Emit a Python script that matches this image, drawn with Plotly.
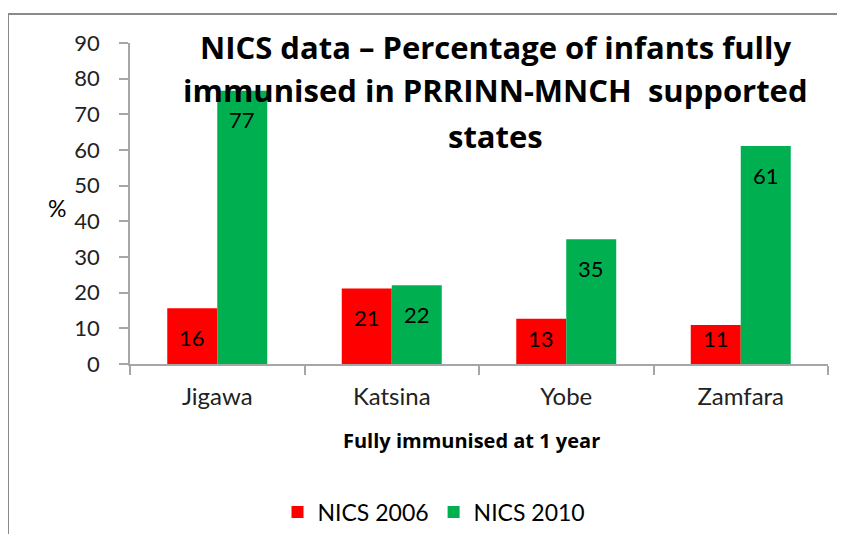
import plotly.graph_objects as go

categories = ["Jigawa", "Katsina", "Yobe", "Zamfara"]
nics_2006 = [15.6, 21.2, 12.7, 10.9]
nics_2010 = [76.6, 22.1, 35.0, 61.1]
series_names = ["NICS 2006", "NICS 2010"]
series_colors = ["#FF0000", "#00B050"]
y_ticks = list(range(0, 100, 10))
title_lines = ["NICS data \u2013 Percentage of infants fully",
               "immunised in PRRINN-MNCH  supported",
               "states"]
x_title = "Fully immunised at 1 year"
y_title = "%"

OFF = 8  # page body margin: window px = figure px + 8
W, H = 845 - 2 * OFF, 542 - 2 * OFF  # keep the page free of scrollbars
# target positions in window pixels
PL, PR, PT, PB = 130, 828, 43, 364
L, T = PL - OFF, PT - OFF
R = W - (PR - OFF)
B = H - (PB - OFF)
FONT = "Lato"
BOLD = "Open Sans"

fig = go.Figure()
for name, vals, col in zip(series_names, [nics_2006, nics_2010], series_colors):
    fig.add_trace(go.Bar(x=categories, y=vals, name=name, marker=dict(color=col, line=dict(width=0))))

annotations = []
px_per_unit = (PB - PT) / 90.0
for k, vals in enumerate([nics_2006, nics_2010]):
    xshift = -25 if k == 0 else 25
    for c, v in zip(categories, vals):
        lab_y = max(v - 29 / px_per_unit, 26 / px_per_unit)
        annotations.append(dict(x=c, y=lab_y, xref="x", yref="y", text=f"{round(v)}",
                                showarrow=False, xshift=xshift, yanchor="middle",
                                font=dict(family=FONT, size=22, color="#000000")))

pw = PR - PL
ph = PB - PT
def px_x(p):
    return (p - PL) / pw
def px_y(p):
    return (PB - p) / ph

for line, yc in zip(title_lines, [47, 90, 136]):
    annotations.append(dict(x=px_x(496), y=px_y(yc), xref="paper", yref="paper", text=f"<b>{line}</b>",
                            showarrow=False, xanchor="center", yanchor="middle",
                            font=dict(family=BOLD, size=31, color="#000000")))

annotations.append(dict(x=px_x(471), y=px_y(440), xref="paper", yref="paper", text=f"<b>{x_title}</b>",
                        showarrow=False, xanchor="center", yanchor="middle",
                        font=dict(family=BOLD, size=20, color="#000000")))
annotations.append(dict(x=px_x(57), y=px_y(208), xref="paper", yref="paper", text=y_title,
                        showarrow=False, xanchor="center", yanchor="middle",
                        font=dict(family=FONT, size=23, color="#000000")))

border = dict(color="#8A8A8A", width=2)
fig.update_layout(
    width=W, height=H,
    margin=dict(l=L, r=R, t=T, b=B, autoexpand=False),
    paper_bgcolor="white", plot_bgcolor="white",
    barmode="group", bargap=0.427, bargroupgap=0,
    showlegend=True,
    legend=dict(orientation="h", x=px_x(434), xanchor="center", y=px_y(512), yanchor="middle",
                font=dict(family=FONT, size=23, color="#000000"), itemwidth=30,
                bgcolor="rgba(0,0,0,0)"),
    annotations=annotations,
    font=dict(family=FONT, color="#000000"),
    shapes=[
        dict(type="line", xref="paper", yref="paper", x0=px_x(8), x1=px_x(845), y0=px_y(14), y1=px_y(14),
             line=border, layer="below"),
        dict(type="line", xref="paper", yref="paper", x0=px_x(8), x1=px_x(8), y0=px_y(14), y1=px_y(545),
             line=border, layer="below"),
    ],
)
fig.update_xaxes(showline=True, linecolor="#A6A6A6", linewidth=1.5, ticks="outside", tickson="boundaries",
                 ticklen=9, tickcolor="#A6A6A6", tickwidth=1.5, showgrid=False,
                 tickfont=dict(family=FONT, size=24, color="#222222"), ticklabelstandoff=10)
fig.update_yaxes(range=[0, 90], tickvals=y_ticks, showline=True, linecolor="#A6A6A6", linewidth=1.5,
                 ticks="outside", ticklen=9, tickcolor="#A6A6A6", tickwidth=1.5, showgrid=False, zeroline=False,
                 tickfont=dict(family=FONT, size=22, color="#222222"), ticklabelstandoff=15)

fig.write_html("out.html")
